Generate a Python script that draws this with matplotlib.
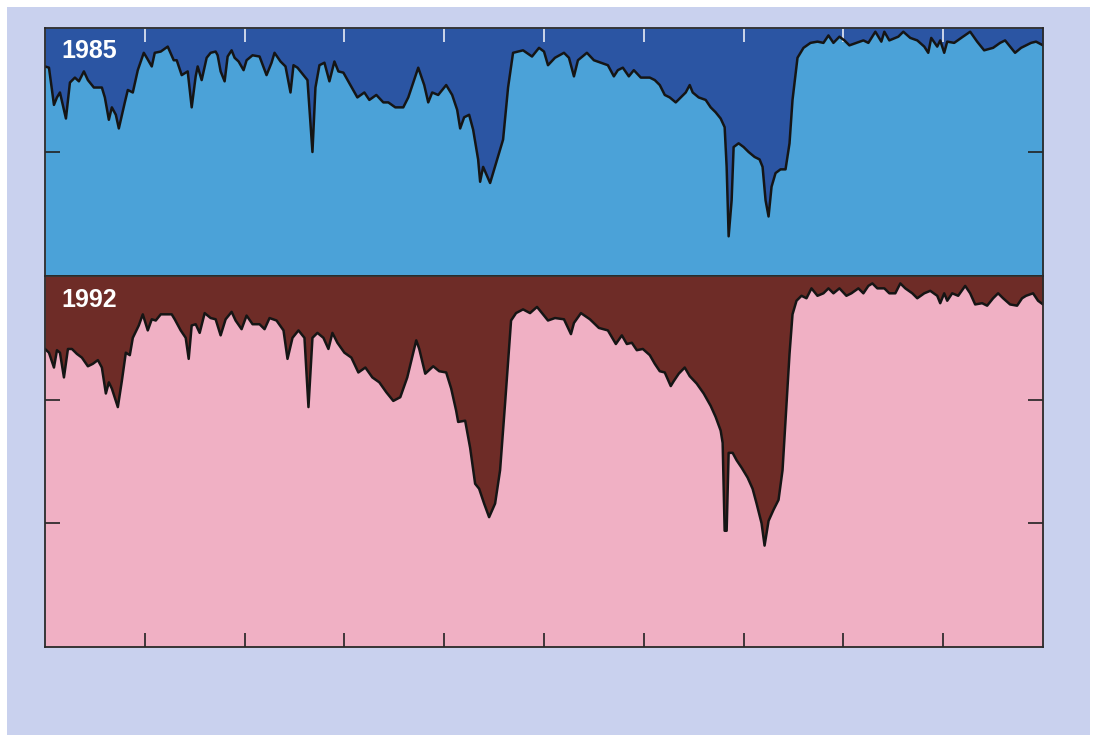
import matplotlib
matplotlib.use("Agg")
import matplotlib.pyplot as plt
from matplotlib.patches import Rectangle

# 1985 trace (x in tick units 0-10, y in tick units 0-2)
x_1985 = [0.0, 0.04, 0.09, 0.12, 0.15, 0.21, 0.25, 0.30, 0.34, 0.39, 0.43, 0.49, 0.57, 0.60,
          0.64, 0.67, 0.71, 0.74, 0.80, 0.83, 0.88, 0.93, 0.99, 1.02, 1.07, 1.10, 1.16, 1.23,
          1.29, 1.32, 1.37, 1.43, 1.47, 1.51, 1.53, 1.57, 1.62, 1.66, 1.71, 1.73, 1.76, 1.80,
          1.83, 1.87, 1.90, 1.94, 1.99, 2.02, 2.08, 2.15, 2.22, 2.27, 2.30, 2.36, 2.41, 2.46,
          2.49, 2.53, 2.60, 2.63, 2.68, 2.71, 2.75, 2.80, 2.85, 2.90, 2.94, 2.99, 3.06, 3.13,
          3.20, 3.25, 3.32, 3.39, 3.44, 3.51, 3.59, 3.64, 3.74, 3.80, 3.84, 3.88, 3.94, 4.02,
          4.08, 4.13, 4.16, 4.20, 4.25, 4.29, 4.34, 4.36, 4.39, 4.46, 4.53, 4.59, 4.64, 4.69,
          4.79, 4.88, 4.95, 5.00, 5.04, 5.11, 5.20, 5.25, 5.30, 5.34, 5.43, 5.50, 5.57, 5.64,
          5.70, 5.74, 5.79, 5.85, 5.90, 5.97, 6.06, 6.11, 6.16, 6.21, 6.26, 6.32, 6.37, 6.42,
          6.46, 6.49, 6.55, 6.62, 6.67, 6.72, 6.77, 6.81, 6.83, 6.85, 6.88, 6.90, 6.95, 7.00,
          7.05, 7.11, 7.16, 7.19, 7.22, 7.25, 7.28, 7.32, 7.37, 7.42, 7.46, 7.49, 7.54, 7.60,
          7.67, 7.74, 7.80, 7.85, 7.90, 7.96, 8.01, 8.06, 8.13, 8.20, 8.25, 8.32, 8.38, 8.41,
          8.46, 8.55, 8.60, 8.67, 8.74, 8.81, 8.85, 8.88, 8.94, 8.97, 9.01, 9.04, 9.11, 9.18,
          9.27, 9.34, 9.41, 9.50, 9.57, 9.62, 9.67, 9.72, 9.78, 9.83, 9.88, 9.93, 10.0]
y_1985 = [1.69, 1.68, 1.38, 1.44, 1.48, 1.27, 1.56, 1.60, 1.57, 1.65, 1.58, 1.52, 1.52, 1.44,
          1.26, 1.36, 1.30, 1.19, 1.40, 1.50, 1.48, 1.66, 1.80, 1.76, 1.69, 1.80, 1.81, 1.85,
          1.74, 1.74, 1.62, 1.65, 1.36, 1.61, 1.69, 1.58, 1.76, 1.80, 1.81, 1.78, 1.65, 1.57,
          1.77, 1.82, 1.76, 1.73, 1.66, 1.74, 1.78, 1.77, 1.62, 1.72, 1.80, 1.73, 1.69, 1.48,
          1.70, 1.68, 1.61, 1.58, 1.00, 1.52, 1.70, 1.72, 1.57, 1.73, 1.65, 1.64, 1.54, 1.44,
          1.48, 1.42, 1.46, 1.40, 1.40, 1.36, 1.36, 1.44, 1.68, 1.54, 1.40, 1.48, 1.46, 1.54,
          1.46, 1.34, 1.19, 1.28, 1.30, 1.18, 0.94, 0.76, 0.88, 0.75, 0.94, 1.10, 1.52, 1.80,
          1.82, 1.77, 1.84, 1.81, 1.70, 1.76, 1.80, 1.76, 1.61, 1.74, 1.80, 1.74, 1.72, 1.70,
          1.61, 1.66, 1.68, 1.61, 1.66, 1.60, 1.60, 1.58, 1.54, 1.46, 1.44, 1.40, 1.44, 1.48,
          1.54, 1.48, 1.44, 1.42, 1.36, 1.32, 1.27, 1.20, 0.88, 0.32, 0.61, 1.04, 1.07, 1.04,
          1.00, 0.96, 0.94, 0.88, 0.61, 0.48, 0.72, 0.83, 0.86, 0.86, 1.07, 1.42, 1.76, 1.84,
          1.88, 1.89, 1.88, 1.94, 1.88, 1.93, 1.90, 1.86, 1.88, 1.90, 1.88, 1.97, 1.89, 1.97,
          1.90, 1.93, 1.97, 1.92, 1.90, 1.85, 1.80, 1.92, 1.85, 1.90, 1.80, 1.89, 1.88, 1.92,
          1.97, 1.89, 1.82, 1.84, 1.88, 1.90, 1.85, 1.80, 1.84, 1.86, 1.88, 1.89, 1.86]

# 1992 trace (x in tick units 0-10, y in tick units 0-3)
x_1992 = [0.0, 0.04, 0.09, 0.12, 0.15, 0.19, 0.23, 0.27, 0.32, 0.37, 0.43, 0.48, 0.53, 0.57,
          0.61, 0.64, 0.67, 0.73, 0.77, 0.81, 0.85, 0.88, 0.94, 0.98, 1.03, 1.07, 1.11, 1.16,
          1.27, 1.30, 1.36, 1.41, 1.44, 1.47, 1.51, 1.55, 1.60, 1.66, 1.71, 1.76, 1.81, 1.87,
          1.91, 1.97, 2.02, 2.08, 2.15, 2.20, 2.25, 2.32, 2.39, 2.43, 2.48, 2.54, 2.60, 2.64,
          2.68, 2.73, 2.79, 2.84, 2.88, 2.93, 3.00, 3.07, 3.14, 3.21, 3.28, 3.35, 3.42, 3.49,
          3.56, 3.63, 3.72, 3.75, 3.81, 3.89, 3.95, 4.02, 4.07, 4.12, 4.14, 4.21, 4.26, 4.31,
          4.35, 4.40, 4.45, 4.51, 4.56, 4.61, 4.67, 4.72, 4.79, 4.86, 4.93, 5.00, 5.04, 5.11,
          5.20, 5.27, 5.30, 5.37, 5.46, 5.55, 5.64, 5.72, 5.78, 5.83, 5.88, 5.93, 5.99, 6.06,
          6.11, 6.16, 6.21, 6.27, 6.30, 6.35, 6.41, 6.46, 6.53, 6.60, 6.67, 6.72, 6.77, 6.79,
          6.81, 6.83, 6.85, 6.89, 6.93, 6.98, 7.04, 7.09, 7.13, 7.18, 7.21, 7.25, 7.30, 7.35,
          7.39, 7.42, 7.46, 7.49, 7.53, 7.58, 7.63, 7.68, 7.74, 7.80, 7.85, 7.90, 7.96, 8.03,
          8.08, 8.15, 8.20, 8.25, 8.29, 8.34, 8.41, 8.46, 8.52, 8.57, 8.62, 8.69, 8.74, 8.81,
          8.87, 8.94, 8.97, 9.01, 9.04, 9.09, 9.15, 9.22, 9.27, 9.32, 9.39, 9.44, 9.50, 9.55,
          9.60, 9.67, 9.74, 9.79, 9.83, 9.90, 9.95, 10.0]
y_1992 = [2.41, 2.38, 2.26, 2.40, 2.38, 2.18, 2.41, 2.41, 2.37, 2.34, 2.27, 2.29, 2.32, 2.26,
          2.05, 2.14, 2.09, 1.94, 2.15, 2.38, 2.36, 2.50, 2.60, 2.69, 2.56, 2.65, 2.64, 2.69,
          2.69, 2.65, 2.56, 2.50, 2.33, 2.60, 2.61, 2.54, 2.70, 2.66, 2.65, 2.52, 2.65, 2.71,
          2.64, 2.57, 2.68, 2.61, 2.61, 2.57, 2.66, 2.64, 2.56, 2.33, 2.50, 2.56, 2.50, 1.94,
          2.50, 2.54, 2.50, 2.41, 2.54, 2.46, 2.38, 2.34, 2.22, 2.26, 2.18, 2.14, 2.06, 1.99,
          2.02, 2.18, 2.48, 2.41, 2.21, 2.27, 2.23, 2.22, 2.09, 1.91, 1.82, 1.83, 1.61, 1.32,
          1.28, 1.16, 1.05, 1.16, 1.43, 1.97, 2.64, 2.70, 2.73, 2.70, 2.75, 2.68, 2.64, 2.66,
          2.65, 2.53, 2.62, 2.70, 2.65, 2.58, 2.56, 2.45, 2.52, 2.45, 2.46, 2.40, 2.41, 2.36,
          2.29, 2.23, 2.22, 2.11, 2.15, 2.21, 2.26, 2.19, 2.13, 2.05, 1.95, 1.86, 1.75, 1.65,
          0.94, 0.94, 1.57, 1.57, 1.51, 1.45, 1.37, 1.28, 1.16, 1.00, 0.82, 1.02, 1.11, 1.19,
          1.43, 1.83, 2.37, 2.69, 2.80, 2.84, 2.82, 2.90, 2.84, 2.86, 2.90, 2.86, 2.90, 2.84,
          2.86, 2.90, 2.86, 2.92, 2.94, 2.90, 2.90, 2.86, 2.86, 2.94, 2.90, 2.86, 2.82, 2.86,
          2.88, 2.84, 2.78, 2.86, 2.80, 2.86, 2.84, 2.92, 2.86, 2.77, 2.78, 2.76, 2.82, 2.86,
          2.82, 2.77, 2.76, 2.82, 2.84, 2.86, 2.80, 2.77]

panels = [
    ("1985", x_1985, y_1985, 2, [1], "#2b55a3", "#4ba2d8"),
    ("1992", x_1992, y_1992, 3, [1, 2], "#6e2c27", "#f0b0c4"),
]

fig = plt.figure(figsize=(10.97, 7.35), dpi=100, facecolor="white")
# lavender page behind the plot
fig.patches.append(Rectangle((7 / 1097, 0), 1083 / 1097, 728 / 735, transform=fig.transFigure,
                             facecolor="#c9d1ee", edgecolor="none", zorder=-10))

ax_top = fig.add_axes([0.041, 0.6245, 0.9098, 0.3374])
ax_bot = fig.add_axes([0.041, 0.1197, 0.9098, 0.5048])

for ax, (label, xs, ys, ymax, yticks, dark, light) in zip([ax_top, ax_bot], panels):
    ax.fill_between(xs, ys, ymax, color=dark, linewidth=0)
    ax.fill_between(xs, 0, ys, color=light, linewidth=0)
    ax.plot(xs, ys, color="#151515", linewidth=1.8, solid_joinstyle="round")
    ax.set_xlim(0, 10)
    ax.set_ylim(0, ymax)
    ax.set_yticks(yticks)
    ax.set_xticks(range(1, 10))
    ax.tick_params(axis="y", direction="in", length=11, width=1.2, color="#222222",
                   left=True, right=True, labelleft=False)
    for s in ax.spines.values():
        s.set_color("#2a2a2a")
        s.set_linewidth(1.3)
    ax.text(0.016, 0.955 if ymax == 2 else 0.968, label, transform=ax.transAxes,
            color="white", fontsize=18, fontweight="bold", family="Liberation Sans",
            ha="left", va="top")

# white tick marks on the top edge, black on the bottom edge
ax_top.tick_params(axis="x", direction="in", length=10, width=1.2, color="#e8ecf5",
                   top=True, bottom=False, labelbottom=False)
ax_bot.tick_params(axis="x", direction="in", length=10, width=1.2, color="#222222",
                   top=False, bottom=True, labelbottom=False)

fig.savefig("out.png", dpi=100, facecolor=fig.get_facecolor())
